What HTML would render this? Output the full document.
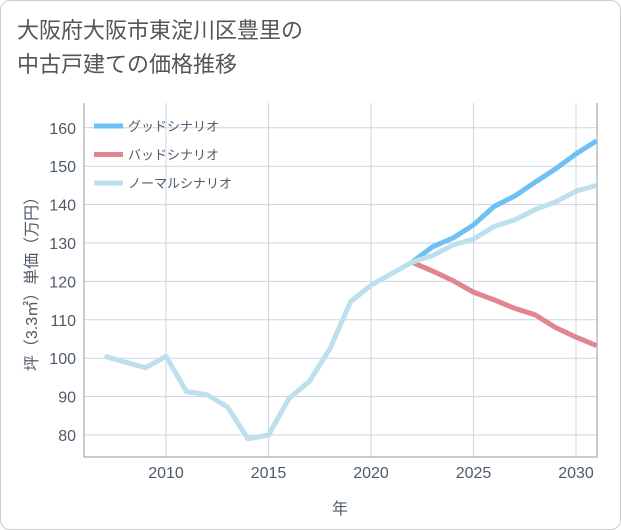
<!DOCTYPE html>
<html><head><meta charset="utf-8"><style>
body{margin:0;background:#fff;}
#wrap{position:relative;width:619px;height:528px;border:1px solid #ccc;border-radius:10px;overflow:hidden;font-family:"Liberation Sans","Noto Sans CJK JP",sans-serif;}
#title{position:absolute;left:16px;top:13px;font-size:22px;line-height:34px;color:#555;}
</style></head><body>
<div id="wrap">
<div id="title">大阪府大阪市東淀川区豊里の<br>中古戸建ての価格推移</div>
<svg id="chart" width="621" height="530" style="position:absolute;left:-1px;top:-1px"></svg>
</div>
<script>
const years=[2007,2008,2009,2010,2011,2012,2013,2014,2015,2016,2017,2018,2019,2020,2021,2022,2023,2024,2025,2026,2027,2028,2029,2030,2031];
const normal=[100.5,99,97.5,100.5,91.3,90.5,87.3,79,80,89.5,94,102.5,114.7,119,122,125,126.7,129.5,131,134.3,136,138.7,140.7,143.5,145];
const goodYears=[2022,2023,2024,2025,2026,2027,2028,2029,2030,2031];
const good=[125,129,131.3,134.7,139.5,142.2,145.8,149.3,153.2,156.6];
const bad=[125,122.7,120.2,117.2,115.2,113,111.3,108,105.5,103.3];
const yTicks=[80,90,100,110,120,130,140,150,160];
const xTicks=[2010,2015,2020,2025,2030];
const L=84,R=597,T=103,B=457;
const x=v=>166+(v-2010)*20.5;
const y=v=>435-(v-80)*3.84;
const svg=document.getElementById('chart');
const NS='http://www.w3.org/2000/svg';
const TXT='#4f5b68';
function mk(t,a,p){const e=document.createElementNS(NS,t);for(const k in a)e.setAttribute(k,a[k]);(p||svg).appendChild(e);return e;}
yTicks.forEach(v=>{
 const l=mk('line',{x1:L,x2:R,y1:y(v),y2:y(v),stroke:'#c9d6e3','stroke-width':1});
 
 
 const t=mk('text',{x:L-8,y:y(v)+6,'text-anchor':'end','font-size':16,fill:TXT});
 t.textContent=v;
 
 
});
xTicks.forEach(v=>{
 const l=mk('line',{x1:x(v),x2:x(v),y1:T,y2:B,stroke:'#c9d6e3','stroke-width':1});
 
 
 const t=mk('text',{x:x(v),y:B+21,'text-anchor':'middle','font-size':16,fill:TXT});
 t.textContent=v;
 
 
});
const ax=mk('path',{d:`M${L} ${T}V${B}H${R}V${T}`,fill:'none',stroke:'#999','stroke-width':1});


function line(xs,vs,c,name){
 const p=mk('polyline',{points:vs.map((v,i)=>x(xs[i])+','+y(v)).join(' '),fill:'none',stroke:c,'stroke-width':5,'stroke-linejoin':'round'});
 
 
}
line(goodYears,bad,'#e0868e','bad-scenario-line');
line(goodYears,good,'#6ec0f5','good-scenario-line');
line(years,normal,'#bde0ec','normal-scenario-line');
const leg=[['グッドシナリオ','#6ec0f5'],['バッドシナリオ','#e0868e'],['ノーマルシナリオ','#bde0ec']];
leg.forEach((d,i)=>{
 const yy=126+i*28.5;
 const g=mk('g',{});
 
 
 mk('line',{x1:94,x2:123,y1:yy,y2:yy,stroke:d[1],'stroke-width':5},g);
 const t=mk('text',{x:128,y:yy+5,'font-size':13,fill:TXT},g);
 t.textContent=d[0];
});
const yt=mk('text',{x:0,y:0,'font-size':16,fill:TXT,'text-anchor':'middle',transform:`translate(37,${(T+B)/2}) rotate(-90)`});
yt.textContent='坪（3.3㎡）単価（万円）';


const xt=mk('text',{x:340,y:514,'font-size':16,fill:TXT,'text-anchor':'middle'});
xt.textContent='年';


</script>
</body></html>
